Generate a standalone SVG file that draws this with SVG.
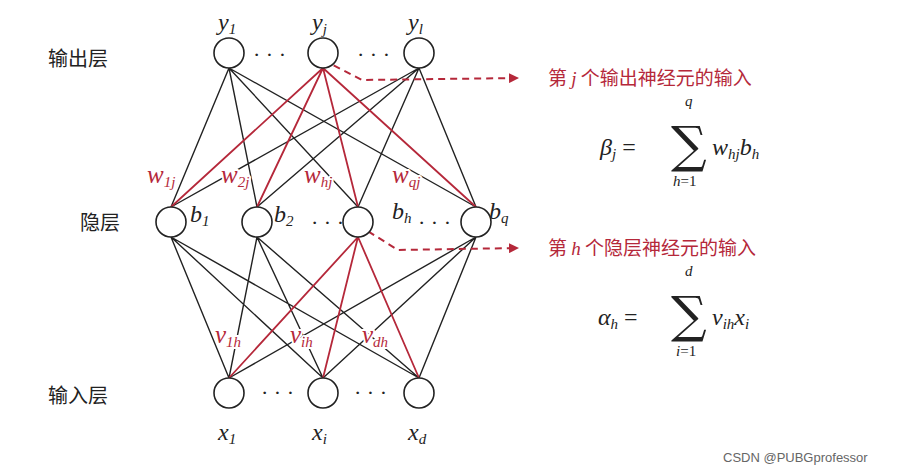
<svg xmlns="http://www.w3.org/2000/svg" width="913" height="473" viewBox="0 0 913 473">
<style>
.n{fill:#fff;stroke:#222;stroke-width:1.6}
.k{stroke:#222;stroke-width:1.4;fill:none}
.r{stroke:#b5283a;stroke-width:1.8;fill:none}
.d{stroke:#b5283a;stroke-width:2;fill:none;stroke-dasharray:7 5}
.m{font-family:'Liberation Serif',serif;font-style:italic;font-size:24px;fill:#222}
.mr{font-family:'Liberation Serif',serif;font-style:italic;font-size:25px;fill:#b5283a;stroke:#fff;stroke-width:4;paint-order:stroke}
.s{font-size:15px}
.c{font-family:'Noto Sans CJK SC',sans-serif;font-size:20px;fill:#222}
.cr{font-family:'Noto Sans CJK SC','Liberation Serif',serif;font-size:19px;fill:#b5283a}
.dot{font-family:'Liberation Serif',serif;font-size:22px;fill:#222}
.sum{font-family:'DejaVu Serif',serif;font-size:50px;fill:#222}
</style>
<defs><marker id="a" viewBox="0 0 10 10" refX="9" refY="5" markerWidth="5" markerHeight="5" orient="auto"><path d="M0,0L10,5L0,10z" fill="#b5283a"/></marker></defs>
<g id="connectors">
<path class="k" d="M229,68L171,207M229,68L257,207M229,68L358,207M229,68L476,207M419,68L171,207M419,68L257,207M419,68L358,207M419,68L476,207"/>
<path class="r" d="M323,68L171,207M323,68L257,207M323,68L358,207M323,68L476,207"/>
<path class="k" d="M171,237L229,378M171,237L323,378M171,237L419,378M257,237L229,378M257,237L323,378M257,237L419,378M476,237L229,378M476,237L323,378M476,237L419,378"/>
<path class="r" d="M358,237L229,378M358,237L323,378M358,237L419,378"/>
<path class="d" d="M323,60L362,80L518,78" marker-end="url(#a)"/>
<path class="d" d="M358,225L398,250L518,248" marker-end="url(#a)"/>
</g>
<g id="y1"><circle class="n" cx="229" cy="53" r="15"/><text class="m" x="218" y="30">y<tspan class="s" dy="4">1</tspan></text></g>
<g id="yj"><circle class="n" cx="323" cy="53" r="15"/><text class="m" x="312" y="30">y<tspan class="s" dy="4">j</tspan></text></g>
<g id="yl"><circle class="n" cx="419" cy="53" r="15"/><text class="m" x="408" y="30">y<tspan class="s" dy="4">l</tspan></text></g>
<g id="b1"><circle class="n" cx="171" cy="222" r="15"/><text class="m" x="190" y="222">b<tspan class="s" dy="4">1</tspan></text></g>
<g id="b2"><circle class="n" cx="257" cy="222" r="15"/><text class="m" x="274" y="222">b<tspan class="s" dy="4">2</tspan></text></g>
<g id="bh"><circle class="n" cx="358" cy="222" r="15"/><text class="m" x="392" y="219">b<tspan class="s" dy="4">h</tspan></text></g>
<g id="bq"><circle class="n" cx="476" cy="222" r="15"/><text class="m" x="489" y="219">b<tspan class="s" dy="4">q</tspan></text></g>
<g id="x1"><circle class="n" cx="229" cy="393" r="15"/><text class="m" x="218" y="440">x<tspan class="s" dy="4">1</tspan></text></g>
<g id="xi"><circle class="n" cx="323" cy="393" r="15"/><text class="m" x="312" y="440">x<tspan class="s" dy="4">i</tspan></text></g>
<g id="xd"><circle class="n" cx="419" cy="393" r="15"/><text class="m" x="408" y="440">x<tspan class="s" dy="4">d</tspan></text></g>
<g id="dots">
<text class="dot" x="253" y="62">· · ·</text><text class="dot" x="357" y="62">· · ·</text>
<text class="dot" x="311" y="230">· · ·</text><text class="dot" x="418" y="230">· · ·</text>
<text class="dot" x="261" y="400">· · ·</text><text class="dot" x="354" y="400">· · ·</text>
</g>
<g id="weights">
<text class="mr" x="147" y="183">w<tspan class="s" dy="4">1j</tspan></text>
<text class="mr" x="221" y="183">w<tspan class="s" dy="4">2j</tspan></text>
<text class="mr" x="304" y="183">w<tspan class="s" dy="4">hj</tspan></text>
<text class="mr" x="392" y="183">w<tspan class="s" dy="4">qj</tspan></text>
<text class="mr" x="215" y="343">v<tspan class="s" dy="4">1h</tspan></text>
<text class="mr" x="290" y="343">v<tspan class="s" dy="4">ih</tspan></text>
<text class="mr" x="362" y="343">v<tspan class="s" dy="4">dh</tspan></text>
</g>
<g id="layers">
<text class="c" x="48" y="66">输出层</text>
<text class="c" x="80" y="230">隐层</text>
<text class="c" x="48" y="403">输入层</text>
</g>
<g id="ann">
<text class="cr" x="548" y="85">第 <tspan font-family="'Liberation Serif',serif" font-style="italic">j</tspan> 个输出神经元的输入</text>
<text class="m" x="600" y="155" font-size="26">β<tspan class="s" dy="4">j</tspan><tspan dy="-4" font-style="normal"> = </tspan></text>
<text class="sum" x="671" y="162">∑</text>
<text class="m s" x="685" y="106">q</text>
<text class="m s" x="673" y="186">h<tspan font-style="normal">=1</tspan></text>
<text class="m" x="712" y="155">w<tspan class="s" dy="4">hj</tspan><tspan dy="-4">b</tspan><tspan class="s" dy="4">h</tspan></text>
<text class="cr" x="548" y="255">第 <tspan font-family="'Liberation Serif',serif" font-style="italic">h</tspan> 个隐层神经元的输入</text>
<text class="m" x="598" y="325" font-size="26">α<tspan class="s" dy="4">h</tspan><tspan dy="-4" font-style="normal"> = </tspan></text>
<text class="sum" x="671" y="332">∑</text>
<text class="m s" x="685" y="276">d</text>
<text class="m s" x="676" y="356">i<tspan font-style="normal">=1</tspan></text>
<text class="m" x="712" y="325">v<tspan class="s" dy="4">ih</tspan><tspan dy="-4">x</tspan><tspan class="s" dy="4">i</tspan></text>
</g>
<text x="723" y="462" font-family="'Liberation Sans',sans-serif" font-size="13" fill="#666">CSDN @PUBGprofessor</text>
</svg>
